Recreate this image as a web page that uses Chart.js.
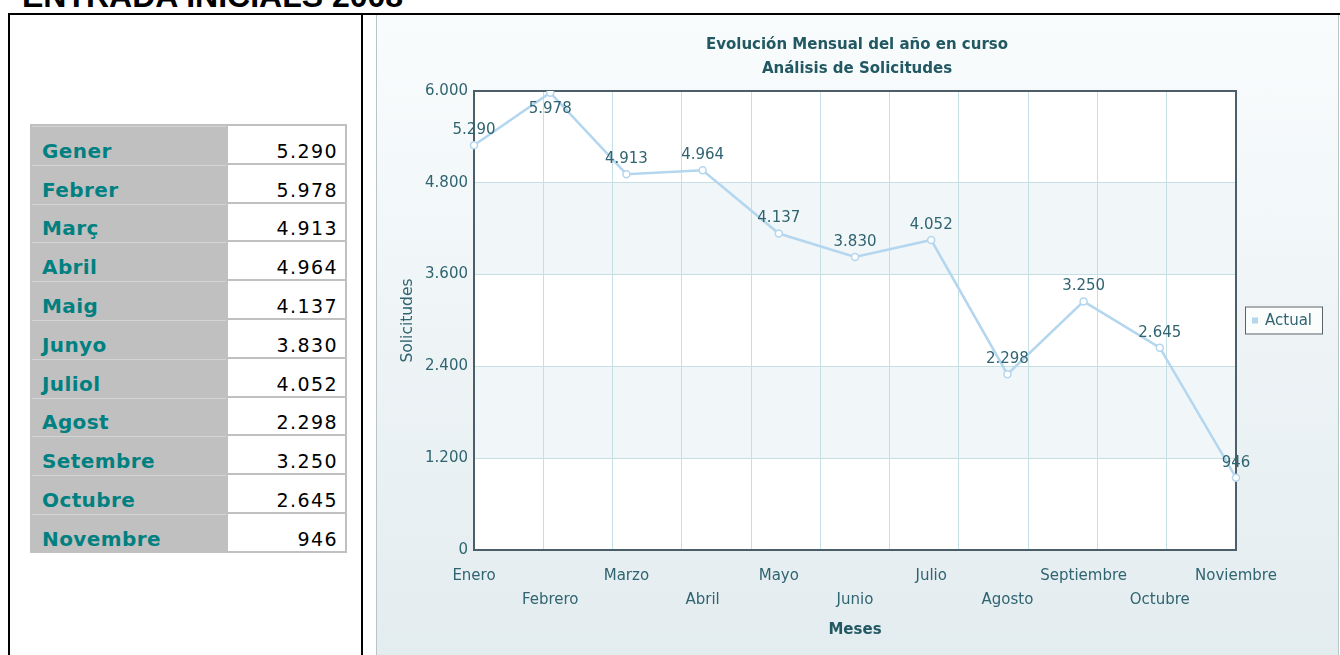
<!DOCTYPE html>
<html>
<head>
<meta charset="utf-8">
<script src="https://cdn.jsdelivr.net/npm/chart.js@4"></script>
<style>
  html, body { margin: 0; padding: 0; width: 1340px; height: 655px; overflow: hidden; background: #fff; }
  #heading { position: absolute; left: 22px; top: -20px; font: bold 32px "Liberation Sans", Arial, sans-serif; line-height: 32px; color: #000; white-space: nowrap; }
  #frame { position: absolute; left: 8px; top: 13px; width: 1340px; height: 700px; border: 2px solid #000; box-sizing: border-box; }
  #divider { position: absolute; left: 361px; top: 13px; width: 2px; height: 700px; background: #000; }
  #panel { position: absolute; left: 376px; top: 15px; width: 961px; height: 660px; border-left: 1px solid #b8c4c8; border-right: 1px solid #b8c4c8;
           background: linear-gradient(#f9fcfd, #e3ecef 640px); }
  #panel canvas { position: absolute; left: 0; top: 0; }
  #tabla { position: absolute; left: 30px; top: 124px; border-collapse: separate; border-spacing: 2px; background: #c0c0c0; }
  #tabla td { height: 36.8px; padding: 0; vertical-align: bottom; box-sizing: border-box; }
  #tabla td.mes { width: 194px; background: #c0c0c0; color: #008080; font: bold 20px "DejaVu Sans", Verdana, sans-serif; letter-spacing: 0.4px; padding: 0 0 0 10px; border-top: 1px solid #d4d4d4; }
  #tabla td.num { width: 117px; background: #fff; color: #000; font: 19px "DejaVu Sans", Verdana, sans-serif; letter-spacing: 1.4px; text-align: right; padding: 0 7px 1px 0; }
</style>
</head>
<body>
<div id="heading">ENTRADA INICIALS 2008</div>
<div id="frame"></div>
<div id="divider"></div>
<table id="tabla"></table>
<div id="panel"><canvas id="grafico" width="960" height="640"></canvas></div>
<script>
// Catalan names for the table, Spanish names for the chart axis
const mesesCat = ['Gener', 'Febrer', 'Març', 'Abril', 'Maig', 'Junyo', 'Juliol', 'Agost', 'Setembre', 'Octubre', 'Novembre'];
const meses = ['Enero', 'Febrero', 'Marzo', 'Abril', 'Mayo', 'Junio', 'Julio', 'Agosto', 'Septiembre', 'Octubre', 'Noviembre'];
const solicitudes = [5290, 5978, 4913, 4964, 4137, 3830, 4052, 2298, 3250, 2645, 946];
const yTicks = [0, 1200, 2400, 3600, 4800, 6000];

const textColor = '#2f6470';
const lineColor = '#b4d6ee';

// 5290 -> "5.290"
function fmt(v) {
    return String(v).replace(/\B(?=(\d{3})+(?!\d))/g, '.');
}

// Fill the table
const tabla = document.getElementById('tabla');
mesesCat.forEach((m, i) => {
    const tr = document.createElement('tr');
    const td1 = document.createElement('td');
    td1.className = 'mes';
    td1.textContent = m;
    const td2 = document.createElement('td');
    td2.className = 'num';
    td2.textContent = fmt(solicitudes[i]);
    tr.appendChild(td1);
    tr.appendChild(td2);
    tabla.appendChild(tr);
});

// Staggered labels: even index on first line, odd on second
const xLabels = meses.map((m, i) => (i % 2 === 0 ? [m, ''] : ['', m]));

// Background bands, frame, point labels and legend
const decoraciones = {
    id: 'decoraciones',
    beforeDraw(chart) {
        const { ctx, chartArea: a, scales: { y } } = chart;
        ctx.save();
        ctx.fillStyle = '#fff';
        ctx.fillRect(a.left, a.top, a.right - a.left, a.bottom - a.top);
        ctx.fillStyle = '#f1f6f8';
        for (let i = 1; i < yTicks.length - 1; i += 2) {
            const top = y.getPixelForValue(yTicks[i + 1]);
            const bottom = y.getPixelForValue(yTicks[i]);
            ctx.fillRect(a.left, top, a.right - a.left, bottom - top);
        }
        ctx.restore();
    },
    beforeDatasetsDraw(chart) {
        const { ctx, chartArea: a } = chart;
        ctx.save();
        ctx.strokeStyle = '#4c5e69';
        ctx.lineWidth = 2;
        ctx.strokeRect(a.left, a.top, a.right - a.left, a.bottom - a.top);
        ctx.restore();
    },
    afterDatasetsDraw(chart) {
        const { ctx, chartArea: a } = chart;
        const meta = chart.getDatasetMeta(0);
        ctx.save();
        ctx.font = '15px "DejaVu Sans", Verdana, sans-serif';
        ctx.fillStyle = textColor;
        ctx.textAlign = 'center';
        ctx.textBaseline = 'middle';
        meta.data.forEach((pt, i) => {
            let ly = pt.y - 15;
            if (ly - 6 < a.top) ly = pt.y + 16;
            ctx.fillText(fmt(solicitudes[i]), pt.x, ly);
        });

        // legend box
        const bx = a.right + 9, by = (a.top + a.bottom) / 2 - 14;
        ctx.fillStyle = '#fbfdfd';
        ctx.fillRect(bx, by, 77, 27);
        ctx.strokeStyle = '#5a6468';
        ctx.lineWidth = 1;
        ctx.strokeRect(bx + 0.5, by + 0.5, 77, 27);
        ctx.fillStyle = lineColor;
        ctx.fillRect(bx + 7, by + 11, 6, 6);
        ctx.fillStyle = textColor;
        ctx.textAlign = 'left';
        ctx.fillText(chart.data.datasets[0].label, bx + 20, by + 14.5);
        ctx.restore();
    }
};

Chart.defaults.font.family = '"DejaVu Sans", Verdana, sans-serif';
Chart.defaults.color = textColor;

new Chart(document.getElementById('grafico'), {
    type: 'line',
    data: {
        labels: xLabels,
        datasets: [{
            label: 'Actual',
            data: solicitudes,
            borderColor: lineColor,
            borderWidth: 2.5,
            pointRadius: 3.5,
            pointBackgroundColor: '#fff',
            pointBorderColor: lineColor,
            pointBorderWidth: 1.5,
            tension: 0
        }]
    },
    options: {
        responsive: false,
        animation: false,
        layout: { padding: 0 },
        plugins: {
            legend: { display: false },
            tooltip: { enabled: false },
            title: {
                display: true,
                text: ['Evolución Mensual del año en curso', 'Análisis de Solicitudes'],
                color: '#215862',
                font: { size: 15, weight: 'bold', lineHeight: 24 / 15 },
                padding: { top: 18, bottom: 10 }
            }
        },
        scales: {
            x: {
                type: 'category',
                offset: false,
                grid: { display: false },
                border: { display: false },
                ticks: { autoSkip: false, maxRotation: 0, padding: 6, font: { size: 15, lineHeight: 24 / 15 } },
                title: { display: true, text: 'Meses', color: '#215862', font: { size: 15, weight: 'bold' }, padding: { top: 0, bottom: 16 } },
                afterFit: s => { s.height = 105; }
            },
            // helper axis that only draws the vertical grid (11 columns)
            xGrid: {
                type: 'linear',
                position: 'top',
                min: 0,
                max: meses.length,
                grid: { color: '#c6dfe5', drawTicks: false, lineWidth: 1 },
                border: { display: false },
                ticks: { display: false, stepSize: 1 },
                afterFit: s => { s.height = 0; }
            },
            y: {
                min: 0,
                max: 6000,
                grid: { color: '#c6dfe5', drawTicks: false },
                border: { display: false },
                afterBuildTicks: s => { s.ticks = yTicks.map(v => ({ value: v })); },
                ticks: { padding: 6, font: { size: 15 }, callback: v => fmt(v) },
                title: { display: true, text: 'Solicitudes', font: { size: 15.5 }, padding: { top: 22, bottom: 0 } },
                afterFit: s => { s.width = 97; }
            },
            // empty right axis that reserves room for the legend box
            yLegend: {
                type: 'linear',
                position: 'right',
                grid: { display: false },
                border: { display: false },
                ticks: { display: false },
                afterFit: s => { s.width = 101; }
            }
        }
    },
    plugins: [decoraciones]
});
</script>
</body>
</html>
